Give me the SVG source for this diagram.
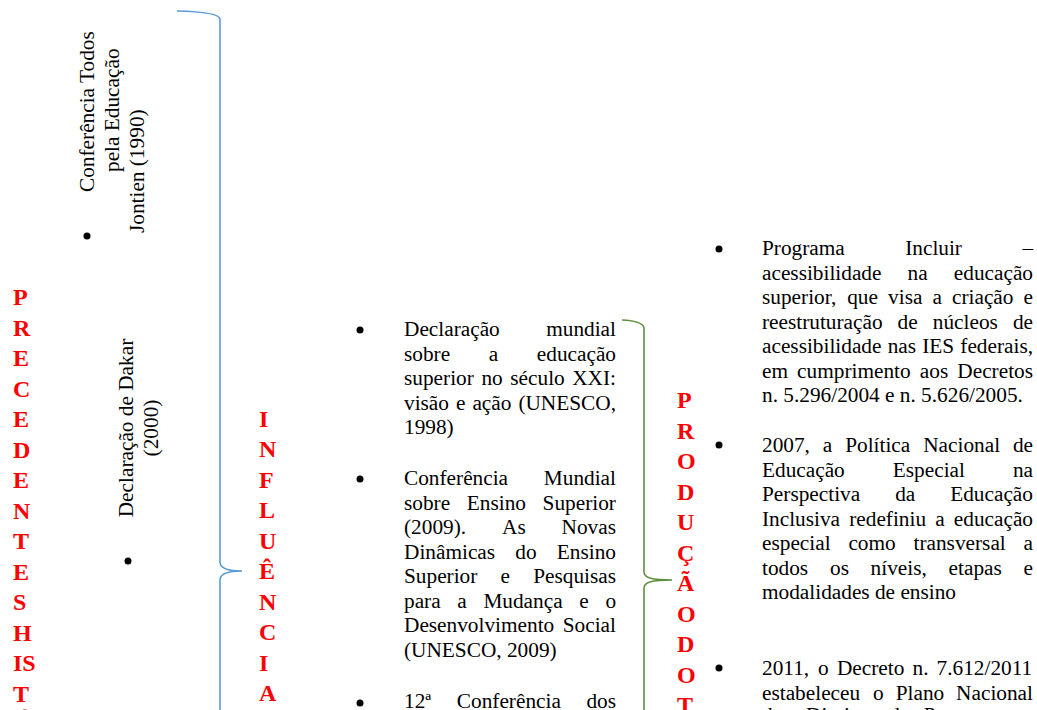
<svg xmlns="http://www.w3.org/2000/svg" width="1037" height="710" viewBox="0 0 1037 710">
<style>
.t{font-family:"Liberation Serif","Times New Roman",serif;font-size:21.3px;fill:#000}
.r{font-family:"Liberation Serif","Times New Roman",serif;font-size:24px;font-weight:bold;fill:#ff0000}
.b{fill:#000}
.blue{fill:none;stroke:#5B9BD5;stroke-width:1.6}
.green{fill:none;stroke:#5E8F3C;stroke-width:1.6}
</style>
<rect width="1037" height="710" fill="#fff"/>

<g id="connectors">
<path class="blue" d="M177,11 Q219,12 220,19 L220,562 C220,568 228,571 242,571 C228,571 220,574 220,580 L220,712"/>
<path class="green" d="M622,320 Q643,321 644,328 L644,572 C644,578 652,580 672,580 C652,580 644,582 644,588 L644,712"/>
</g>

<g id="precedentes">
<text class="r"><tspan x="13" y="305">P</tspan><tspan x="13" y="335.5">R</tspan><tspan x="13" y="366">E</tspan><tspan x="13" y="396.5">C</tspan><tspan x="13" y="427">E</tspan><tspan x="13" y="457.5">D</tspan><tspan x="13" y="488">E</tspan><tspan x="13" y="518.5">N</tspan><tspan x="13" y="549">T</tspan><tspan x="13" y="579.5">E</tspan><tspan x="13" y="610">S</tspan><tspan x="13" y="640.5">H</tspan><tspan x="13" y="671">IS</tspan><tspan x="13" y="701.5">T</tspan><tspan x="13" y="730">Ó</tspan></text>
</g>

<g id="item-jomtien">
<circle class="b" cx="87" cy="236" r="3.5"/>
<text class="t" transform="rotate(-90)"><tspan x="-192" y="94">Conferência Todos</tspan><tspan x="-172" y="119">pela Educação</tspan><tspan x="-233" y="144">Jontien (1990)</tspan></text>
</g>

<g id="item-dakar">
<circle class="b" cx="128" cy="561" r="3.5"/>
<text class="t" transform="rotate(-90)" text-anchor="middle"><tspan x="-428" y="133">Declaração de Dakar</tspan><tspan x="-428" y="157.5">(2000)</tspan></text>
</g>

<g id="influencia">
<text class="r"><tspan x="259" y="426.5">I</tspan><tspan x="259" y="457">N</tspan><tspan x="259" y="487.5">F</tspan><tspan x="259" y="518">L</tspan><tspan x="259" y="548.5">U</tspan><tspan x="259" y="579">Ê</tspan><tspan x="259" y="609.5">N</tspan><tspan x="259" y="640">C</tspan><tspan x="259" y="670.5">I</tspan><tspan x="259" y="701">A</tspan></text>
</g>

<g id="item-unesco-1998">
<circle class="b" cx="360" cy="330" r="3.5"/>
<text class="t">
<tspan x="404" y="336">Declaração</tspan><tspan x="546.2" y="336">mundial</tspan>
<tspan x="404" y="360.5">sobre</tspan><tspan x="488.7" y="360.5">a</tspan><tspan x="536.8" y="360.5">educação</tspan>
<tspan x="404" y="385">superior</tspan><tspan x="481.4" y="385">no</tspan><tspan x="510.3" y="385">século</tspan><tspan x="572.2" y="385">XXI:</tspan>
<tspan x="404" y="409.5">visão</tspan><tspan x="456" y="409.5">e</tspan><tspan x="472.4" y="409.5">ação</tspan><tspan x="518.4" y="409.5">(UNESCO,</tspan>
<tspan x="404" y="434">1998)</tspan>
</text>
</g>

<g id="item-unesco-2009">
<circle class="b" cx="360" cy="479" r="3.5"/>
<text class="t">
<tspan x="404" y="485">Conferência</tspan><tspan x="543.8" y="485">Mundial</tspan>
<tspan x="404" y="509.5">sobre</tspan><tspan x="466.8" y="509.5">Ensino</tspan><tspan x="542.6" y="509.5">Superior</tspan>
<tspan x="404" y="534">(2009).</tspan><tspan x="502" y="534">As</tspan><tspan x="561.6" y="534">Novas</tspan>
<tspan x="404" y="558.5">Dinâmicas</tspan><tspan x="515.3" y="558.5">do</tspan><tspan x="556.8" y="558.5">Ensino</tspan>
<tspan x="404" y="583">Superior</tspan><tspan x="500.6" y="583">e</tspan><tspan x="533.2" y="583">Pesquisas</tspan>
<tspan x="404" y="607.5">para</tspan><tspan x="457.3" y="607.5">a</tspan><tspan x="483.4" y="607.5">Mudança</tspan><tspan x="579.3" y="607.5">e</tspan><tspan x="605.4" y="607.5">o</tspan>
<tspan x="404" y="632">Desenvolvimento</tspan><tspan x="562.7" y="632">Social</tspan>
<tspan x="404" y="656.5">(UNESCO, 2009)</tspan>
</text>
</g>

<g id="item-12-conferencia">
<circle class="b" cx="360" cy="703" r="3.5"/>
<text class="t"><tspan x="404" y="707.5">12ª</tspan><tspan x="456.8" y="707.5">Conferência</tspan><tspan x="586.4" y="707.5">dos</tspan></text>
</g>

<g id="producao">
<text class="r"><tspan x="677" y="408">P</tspan><tspan x="677" y="438.5">R</tspan><tspan x="677" y="469">O</tspan><tspan x="677" y="499.5">D</tspan><tspan x="677" y="530">U</tspan><tspan x="677" y="560.5">Ç</tspan><tspan x="677" y="591">Ã</tspan><tspan x="677" y="621.5">O</tspan><tspan x="677" y="652">D</tspan><tspan x="677" y="682.5">O</tspan><tspan x="677" y="713">T</tspan></text>
</g>

<g id="item-incluir">
<circle class="b" cx="719" cy="249" r="3.5"/>
<text class="t">
<tspan x="762" y="255">Programa</tspan><tspan x="905.2" y="255">Incluir</tspan><tspan x="1022.4" y="255">–</tspan>
<tspan x="762" y="279.5">acessibilidade</tspan><tspan x="907.6" y="279.5">na</tspan><tspan x="953.8" y="279.5">educação</tspan>
<tspan x="762" y="304">superior,</tspan><tspan x="847.2" y="304">que</tspan><tspan x="888.1" y="304">visa</tspan><tspan x="932.5" y="304">a</tspan><tspan x="952" y="304">criação</tspan><tspan x="1023.5" y="304">e</tspan>
<tspan x="762" y="328.5">reestruturação</tspan><tspan x="897.6" y="328.5">de</tspan><tspan x="932.8" y="328.5">núcleos</tspan><tspan x="1012.9" y="328.5">de</tspan>
<tspan x="762" y="353">acessibilidade</tspan><tspan x="887.7" y="353">nas</tspan><tspan x="922.2" y="353">IES</tspan><tspan x="960.3" y="353">federais,</tspan>
<tspan x="762" y="377.5">em</tspan><tspan x="797.1" y="377.5">cumprimento</tspan><tspan x="919.8" y="377.5">aos</tspan><tspan x="957.3" y="377.5">Decretos</tspan>
<tspan x="762" y="402">n. 5.296/2004 e n. 5.626/2005.</tspan>
</text>
</g>

<g id="item-politica-2007">
<circle class="b" cx="719" cy="445" r="3.5"/>
<text class="t">
<tspan x="762" y="452">2007,</tspan><tspan x="822.8" y="452">a</tspan><tspan x="845.2" y="452">Política</tspan><tspan x="923.2" y="452">Nacional</tspan><tspan x="1012.9" y="452">de</tspan>
<tspan x="762" y="476.5">Educação</tspan><tspan x="892.8" y="476.5">Especial</tspan><tspan x="1012.9" y="476.5">na</tspan>
<tspan x="762" y="501">Perspectiva</tspan><tspan x="895.2" y="501">da</tspan><tspan x="950.2" y="501">Educação</tspan>
<tspan x="762" y="525.5">Inclusiva</tspan><tspan x="849.2" y="525.5">redefiniu</tspan><tspan x="935.2" y="525.5">a</tspan><tspan x="953.8" y="525.5">educação</tspan>
<tspan x="762" y="550">especial</tspan><tspan x="848.4" y="550">como</tspan><tspan x="913.5" y="550">transversal</tspan><tspan x="1023.5" y="550">a</tspan>
<tspan x="762" y="574.5">todos</tspan><tspan x="830" y="574.5">os</tspan><tspan x="870.6" y="574.5">níveis,</tspan><tspan x="948.6" y="574.5">etapas</tspan><tspan x="1023.5" y="574.5">e</tspan>
<tspan x="762" y="599">modalidades de ensino</tspan>
</text>
</g>

<g id="item-decreto-2011">
<circle class="b" cx="719" cy="668" r="3.5"/>
<text class="t">
<tspan x="762" y="675">2011,</tspan><tspan x="818.1" y="675">o</tspan><tspan x="836.9" y="675">Decreto</tspan><tspan x="912.5" y="675">n.</tspan><tspan x="936.6" y="675">7.612/2011</tspan>
<tspan x="762" y="699.5">estabeleceu</tspan><tspan x="873.1" y="699.5">o</tspan><tspan x="895.7" y="699.5">Plano</tspan><tspan x="956.1" y="699.5">Nacional</tspan>
<tspan x="762" y="722">dos</tspan><tspan x="806.1" y="722">Direitos</tspan><tspan x="889.2" y="722">da</tspan><tspan x="923.8" y="722">Pessoa</tspan><tspan x="996.3" y="722">com</tspan>
</text>
</g>
</svg>
